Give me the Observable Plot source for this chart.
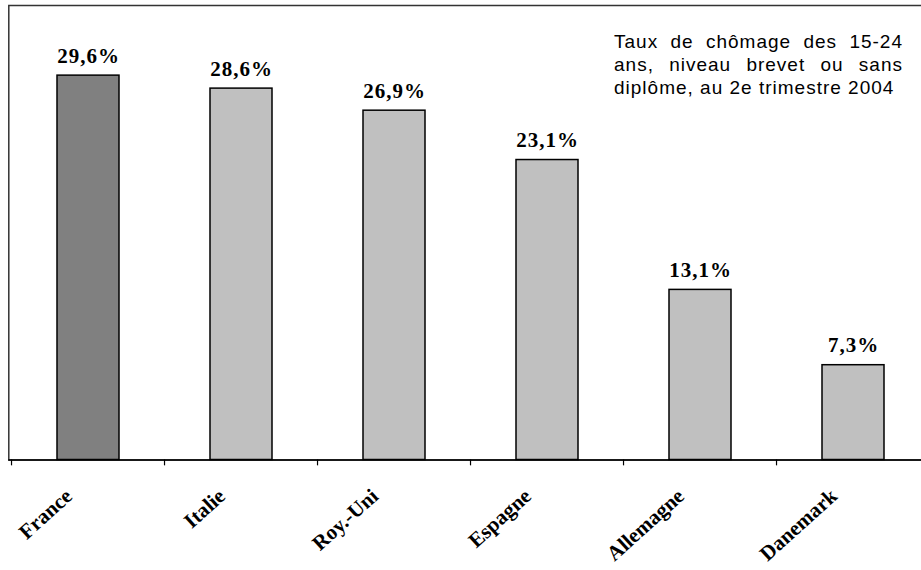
<!DOCTYPE html>
<html>
<head>
<meta charset="utf-8">
<script src="https://cdn.jsdelivr.net/npm/d3@7"></script>
<script src="https://cdn.jsdelivr.net/npm/@observablehq/plot@0.6"></script>
<style>
  html, body { margin: 0; padding: 0; background: #fff; }
  #wrap { position: relative; width: 921px; height: 570px; overflow: hidden; }
  #title {
    position: absolute; left: 614px; top: 30px; width: 289px;
    font-family: "Liberation Sans", Arial, sans-serif; font-size: 19px;
    line-height: 23px; letter-spacing: 1px; color: #000;
    text-align: justify; text-align-last: left;
  }
</style>
</head>
<body>
<div id="wrap">
  <div id="chart"></div>
  <div id="title">Taux de chômage des 15-24 ans, niveau brevet ou sans diplôme, au 2e trimestre 2004</div>
</div>
<script>
const countries = ["France", "Italie", "Roy.-Uni", "Espagne", "Allemagne", "Danemark"];
const rates = [29.6, 28.6, 26.9, 23.1, 13.1, 7.3];
const labels = ["29,6%", "28,6%", "26,9%", "23,1%", "13,1%", "7,3%"];

const data = countries.map((c, i) => ({country: c, rate: rates[i], label: labels[i], highlight: i === 0}));

const W = 921, H = 570;
const xRange = [8.3, 932];
const yRange = [459.5, 5];
const step = (xRange[1] - xRange[0]) / countries.length;

const chart = Plot.plot({
  width: W,
  height: H,
  marginLeft: xRange[0],
  marginRight: W - xRange[1],
  marginTop: yRange[1],
  marginBottom: H - yRange[0],
  x: {domain: countries, range: xRange, paddingInner: 0.593, paddingOuter: 0.2965, axis: null},
  y: {domain: [0, 35], range: yRange, axis: null},
  marks: [
    Plot.frame({stroke: "#333", strokeWidth: 1.5}),
    Plot.barY(data, {
      x: "country", y: "rate",
      fill: d => d.highlight ? "#808080" : "#c0c0c0",
      stroke: "#000", strokeWidth: 1.5
    }),
    Plot.ruleY([0], {stroke: "#000", strokeWidth: 1.5}),
    Plot.ruleX(data, {x: "country", y1: 0, y2: -0.45, dx: -step / 2, stroke: "#000", strokeWidth: 1.2}),
    Plot.text(data, {
      x: "country", y: "rate", text: "label", dy: -13, lineAnchor: "bottom",
      fontFamily: "'Liberation Serif', 'Times New Roman', serif", fontWeight: "bold", fontSize: 21, fill: "#000"
    }),
    Plot.text(data, {
      x: "country", y: 0, text: "country", rotate: -42, textAnchor: "end", lineAnchor: "bottom",
      dx: -15, dy: 38,
      fontFamily: "'Liberation Serif', 'Times New Roman', serif", fontWeight: "bold", fontSize: 21, fill: "#000"
    })
  ]
});
// slightly wider spacing for the value labels, as in the original
d3.select(chart).selectAll("g[aria-label='text']").filter((d, i) => i === 0).selectAll("text").style("letter-spacing", "1px");
document.getElementById("chart").appendChild(chart);
</script>
</body>
</html>
